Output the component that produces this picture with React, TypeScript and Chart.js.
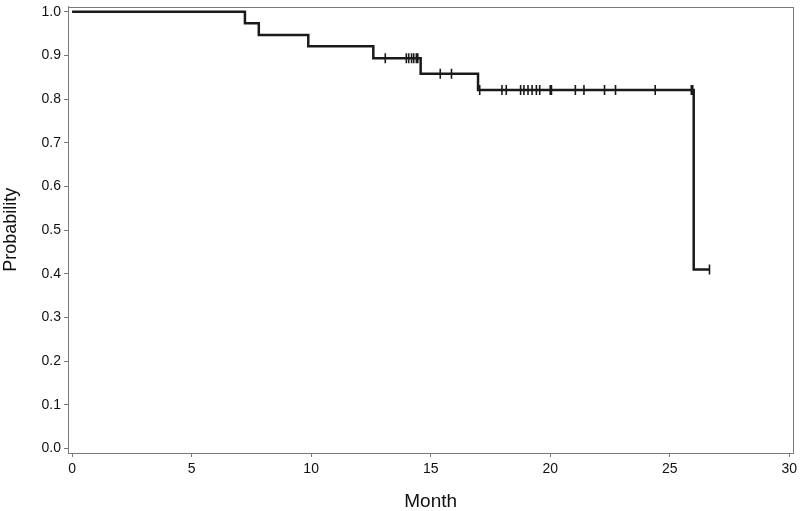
import React, { useEffect, useRef } from "react";
import { Chart, registerables } from "chart.js";

Chart.register(...registerables);

// Kaplan-Meier step curve (event times in months, survival probability)
const stepTimes = [0, 7.23, 7.81, 9.88, 12.6, 14.58, 16.98, 26.0, 26.66];
const stepSurvival = [1.0, 0.974, 0.947, 0.921, 0.894, 0.858, 0.821, 0.41, 0.41];

// Censored observations
const censorTimes = [
  13.1, 13.98, 14.08, 14.2, 14.29, 14.4, 14.46,
  15.4, 15.87,
  17.05, 17.98, 18.16, 18.76, 18.9, 19.07, 19.24, 19.42, 19.56, 20.0, 20.05,
  21.05, 21.41, 22.27, 22.73, 24.39, 25.9, 25.96,
  26.66,
];
const censorSurvival = [
  0.894, 0.894, 0.894, 0.894, 0.894, 0.894, 0.894,
  0.858, 0.858,
  0.821, 0.821, 0.821, 0.821, 0.821, 0.821, 0.821, 0.821, 0.821, 0.821, 0.821,
  0.821, 0.821, 0.821, 0.821, 0.821, 0.821, 0.821,
  0.41,
];

const xTickValues = [0, 5, 10, 15, 20, 25, 30];
const yTickValues = [0, 0.1, 0.2, 0.3, 0.4, 0.5, 0.6, 0.7, 0.8, 0.9, 1.0];

const FONT = "'Liberation Sans', Arial, Helvetica, sans-serif";

const framePlugin = {
  id: "frame",
  afterDraw(chart: any) {
    const { ctx, chartArea } = chart;
    ctx.save();
    ctx.strokeStyle = "#7a7a7a";
    ctx.lineWidth = 1;
    ctx.strokeRect(
      Math.round(chartArea.left) + 0.5,
      Math.round(chartArea.top) + 0.5,
      Math.round(chartArea.right - chartArea.left),
      Math.round(chartArea.bottom - chartArea.top)
    );
    ctx.restore();
  },
};

export default function App() {
  const ref = useRef<HTMLCanvasElement | null>(null);

  useEffect(() => {
    if (!ref.current) return;
    const chart = new Chart(ref.current, {
      type: "scatter",
      data: {
        datasets: [
          {
            type: "line",
            data: stepTimes.map((t, i) => ({ x: t, y: stepSurvival[i] })),
            stepped: "before",
            borderColor: "#1a1a1a",
            borderWidth: 2.5,
            pointRadius: 0,
            fill: false,
          } as any,
          {
            type: "scatter",
            data: censorTimes.map((t, i) => ({ x: t, y: censorSurvival[i] })),
            pointStyle: "line",
            rotation: 90,
            pointRadius: 5,
            borderColor: "#1a1a1a",
            backgroundColor: "#1a1a1a",
            pointBorderWidth: 1.6,
            borderWidth: 1.6,
          } as any,
        ],
      },
      options: {
        responsive: false,
        animation: false,
        devicePixelRatio: 1,
        layout: { padding: { top: 4, right: 6, left: 0, bottom: 0 } },
        plugins: {
          legend: { display: false },
          tooltip: { enabled: false },
        },
        scales: {
          x: {
            type: "linear",
            min: -0.17,
            max: 30.17,
            afterFit: (s: any) => {
              s.height = 58;
              s.paddingLeft = 0;
              s.paddingRight = 0;
            },
            afterBuildTicks: (s: any) => {
              s.ticks = xTickValues.map((v) => ({ value: v }));
            },
            ticks: {
              color: "#111",
              font: { family: FONT, size: 14 },
              padding: 4,
              maxRotation: 0,
              callback: (v: any) => String(v),
            },
            grid: {
              display: true,
              drawOnChartArea: false,
              drawTicks: true,
              tickLength: 4,
              color: "#7a7a7a",
            },
            border: { display: true, color: "#7a7a7a", width: 1 },
            title: {
              display: true,
              text: "Month",
              color: "#111",
              font: { family: FONT, size: 19, lineHeight: 1 },
              padding: { top: 0, bottom: 0 },
            },
          },
          y: {
            type: "linear",
            min: -0.01,
            max: 1.012,
            afterFit: (s: any) => {
              s.width = 68;
              s.paddingTop = 0;
              s.paddingBottom = 0;
            },
            afterBuildTicks: (s: any) => {
              s.ticks = yTickValues.map((v) => ({ value: v }));
            },
            ticks: {
              color: "#111",
              font: { family: FONT, size: 14 },
              padding: 3,
              callback: (v: any) => Number(v).toFixed(1),
            },
            grid: {
              display: true,
              drawOnChartArea: false,
              drawTicks: true,
              tickLength: 4,
              color: "#7a7a7a",
            },
            border: { display: true, color: "#7a7a7a", width: 1 },
            title: {
              display: true,
              text: "Probability",
              color: "#111",
              font: { family: FONT, size: 18, lineHeight: 1.2 },
              padding: { top: 0, bottom: 0 },
            },
          },
        },
      },
      plugins: [framePlugin],
    } as any);
    return () => chart.destroy();
  }, []);

  return (
    <div style={{ position: "fixed", left: 0, top: 0, width: 800, height: 511, background: "#fff" }}>
      <canvas ref={ref} width={800} height={511} />
    </div>
  );
}
